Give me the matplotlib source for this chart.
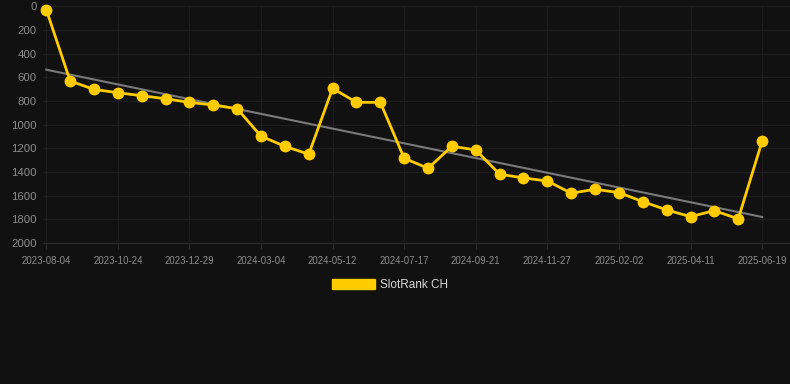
import matplotlib.pyplot as plt
import numpy as np
from matplotlib.patches import Patch

plt.rcParams['font.family'] = ['Liberation Sans', 'DejaVu Sans']

# rank per snapshot (lower is better, axis inverted)
ranks = [30, 632, 703, 731, 756, 782, 812, 835, 866, 1098,
         1183, 1250, 694, 812, 812, 1284, 1369, 1183, 1214, 1419,
         1450, 1476, 1579, 1546, 1574, 1650, 1720, 1777, 1726, 1796,
         1141]
tick_labels = ['2023-08-04', '2023-10-24', '2023-12-29', '2024-03-04', '2024-05-12',
               '2024-07-17', '2024-09-21', '2024-11-27', '2025-02-02', '2025-04-11',
               '2025-06-19']
series_name = 'SlotRank CH'

bg = '#111111'
grid_c = '#1d1d1d'
gold = '#ffcc00'

fig = plt.figure(figsize=(7.9, 3.84), dpi=100, facecolor=bg)
ax = fig.add_axes([0.055, 0.367, 0.945, 0.617], facecolor=bg)

x = np.arange(len(ranks))
y = np.array(ranks)

# linear trend
k, b = np.polyfit(x, y, 1)
ax.plot(x, k * x + b, color='#7a7a7a', lw=1.5, zorder=2)

ax.plot(x, y, color=gold, lw=2.0, marker='o', ms=7.5, zorder=3, clip_on=False)

ax.set_xlim(-0.12, len(ranks) - 1 + 1.17)
ax.set_ylim(2000, 0)
ax.set_yticks(range(0, 2001, 200))
ax.set_xticks(x[::3])
ax.set_xticklabels(tick_labels)

ax.grid(True, color=grid_c, lw=0.9)
ax.set_axisbelow(True)
for s in ax.spines.values():
    s.set_visible(False)
ax.spines['bottom'].set_visible(True)
ax.spines['bottom'].set_color('#2a2a2a')
ax.tick_params(axis='y', length=0, pad=5, labelsize=8.2, labelcolor='#8c8c8c')
ax.tick_params(axis='x', length=4, color='#2a2a2a', pad=5, labelsize=6.9, labelcolor='#8c8c8c')

leg = fig.legend(handles=[Patch(facecolor=gold, edgecolor=gold)], labels=[series_name],
                 loc='center', bbox_to_anchor=(0.494, 0.258), frameon=False,
                 handlelength=3.6, handleheight=1.0, handletextpad=0.5,
                 fontsize=8.5, labelcolor='#d8d8d8')

fig.savefig('out.png', dpi=100, facecolor=bg)
